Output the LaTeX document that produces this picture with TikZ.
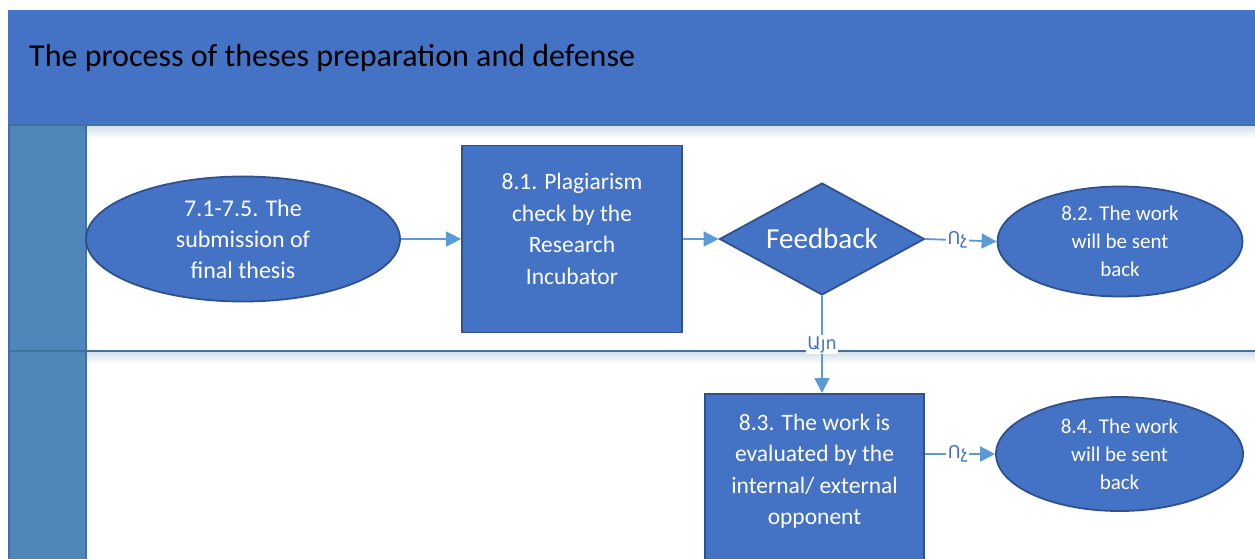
\documentclass[tikz,border=0pt]{standalone}
\usepackage{fontspec}
\setmainfont{Carlito}
\newfontfamily\armfont{DejaVu Sans}
\usetikzlibrary{shapes.geometric,arrows.meta}
\definecolor{nodefill}{HTML}{4472C4}
\definecolor{nodeline}{HTML}{2F528F}
\definecolor{lanecol}{HTML}{4F87BB}
\definecolor{laneline}{HTML}{41719C}
\definecolor{arrowcol}{HTML}{5B9BD5}
\definecolor{labelcol}{HTML}{4472C4}
\tikzset{
  procbox/.style={draw=nodeline, line width=1.8pt, fill=nodefill, rectangle, inner sep=0pt},
  termell/.style={draw=nodeline, line width=1.8pt, fill=nodefill, ellipse, inner sep=0pt, text=white, align=center},
  decis/.style={draw=nodeline, line width=1.8pt, fill=nodefill, diamond, inner sep=0pt, text=white},
  boxtext/.style={text=white, align=center, font=\fontsize{23.5}{31.5}\selectfont},
  flow/.style={draw=arrowcol, line width=1.8pt, -{Triangle[length=15pt,width=15pt]}},
  flowlbl/.style={fill=white, inner sep=1.5pt, text=labelcol, font=\armfont\fontsize{17.5}{18}\selectfont},
}
\begin{document}
\begin{tikzpicture}[x=1pt,y=-1pt]
\clip (0,0) rectangle (1255,558);
\useasboundingbox (0,0) rectangle (1255,558);
\fill[white] (0,0) rectangle (1255,558);
% header
\node[fill=nodefill, draw=none, rectangle, inner sep=0pt, minimum width=1247pt, minimum height=115pt, anchor=north west] (hdr) at (8,10) {};
\node[anchor=west, inner sep=0pt, font=\fontsize{32}{36}\selectfont, text=black] (title) at (29,58) {The process of theses preparation and defense};
% lane shadows
\shade[top color=laneline!22, bottom color=white] (86,126) rectangle (1255,138);
\shade[top color=laneline!22, bottom color=white] (86,352) rectangle (1255,364);
% lane column
\fill[lanecol] (8,125) rectangle (86,560);
\draw[laneline, line width=1.5pt] (86,125) -- (86,560);
\draw[laneline, line width=1.5pt] (8.75,125) -- (8.75,560);
\draw[laneline, line width=2pt] (8,125) -- (1255,125);
\draw[laneline, line width=1.5pt] (8,351) -- (1255,351);
% nodes
\node[termell, minimum width=314pt, minimum height=125pt, font=\fontsize{24}{31}\selectfont] (e1) at (243,239) {7.1-7.5. The\\submission of\\final thesis};
\node[procbox, minimum width=220pt, minimum height=187pt] (r81) at (572,239) {};
\node[boxtext] (t81) at ([yshift=10pt]r81.center) {8.1. Plagiarism\\check by the\\Research\\Incubator};
\node[decis, aspect=1.83, minimum width=205pt, minimum height=112pt, font=\fontsize{29}{32}\selectfont] (fb) at (822,239) {Feedback};
\node[termell, minimum width=245pt, minimum height=110pt, font=\fontsize{21}{28}\selectfont] (e82) at (1120,241.5) {8.2. The work\\will be sent\\back};
\node[procbox, minimum width=219pt, minimum height=200pt, anchor=north] (r83) at (814.5,393) {};
\node[boxtext] (t83) at (814.5,471) {8.3. The work is\\evaluated by the\\internal/ external\\opponent};
\node[termell, minimum width=247pt, minimum height=114pt, font=\fontsize{21}{28}\selectfont] (e84) at (1119.5,454) {8.4. The work\\will be sent\\back};
% connectors
\draw[flow] (e1.east) -- (r81.west);
\draw[flow] (r81.east) -- (fb.west);
\draw[flow] (fb.east) -- node[flowlbl, pos=0.45] (lno1) {Ոչ} (e82.west);
\draw[flow] (fb.south) -- node[flowlbl, pos=0.5] (lyes) {Այո} (fb.south |- r83.north);
\draw[flow] (r83.east |- e84.west) -- node[flowlbl, pos=0.47] (lno2) {Ոչ} (e84.west);
\end{tikzpicture}
\end{document}
